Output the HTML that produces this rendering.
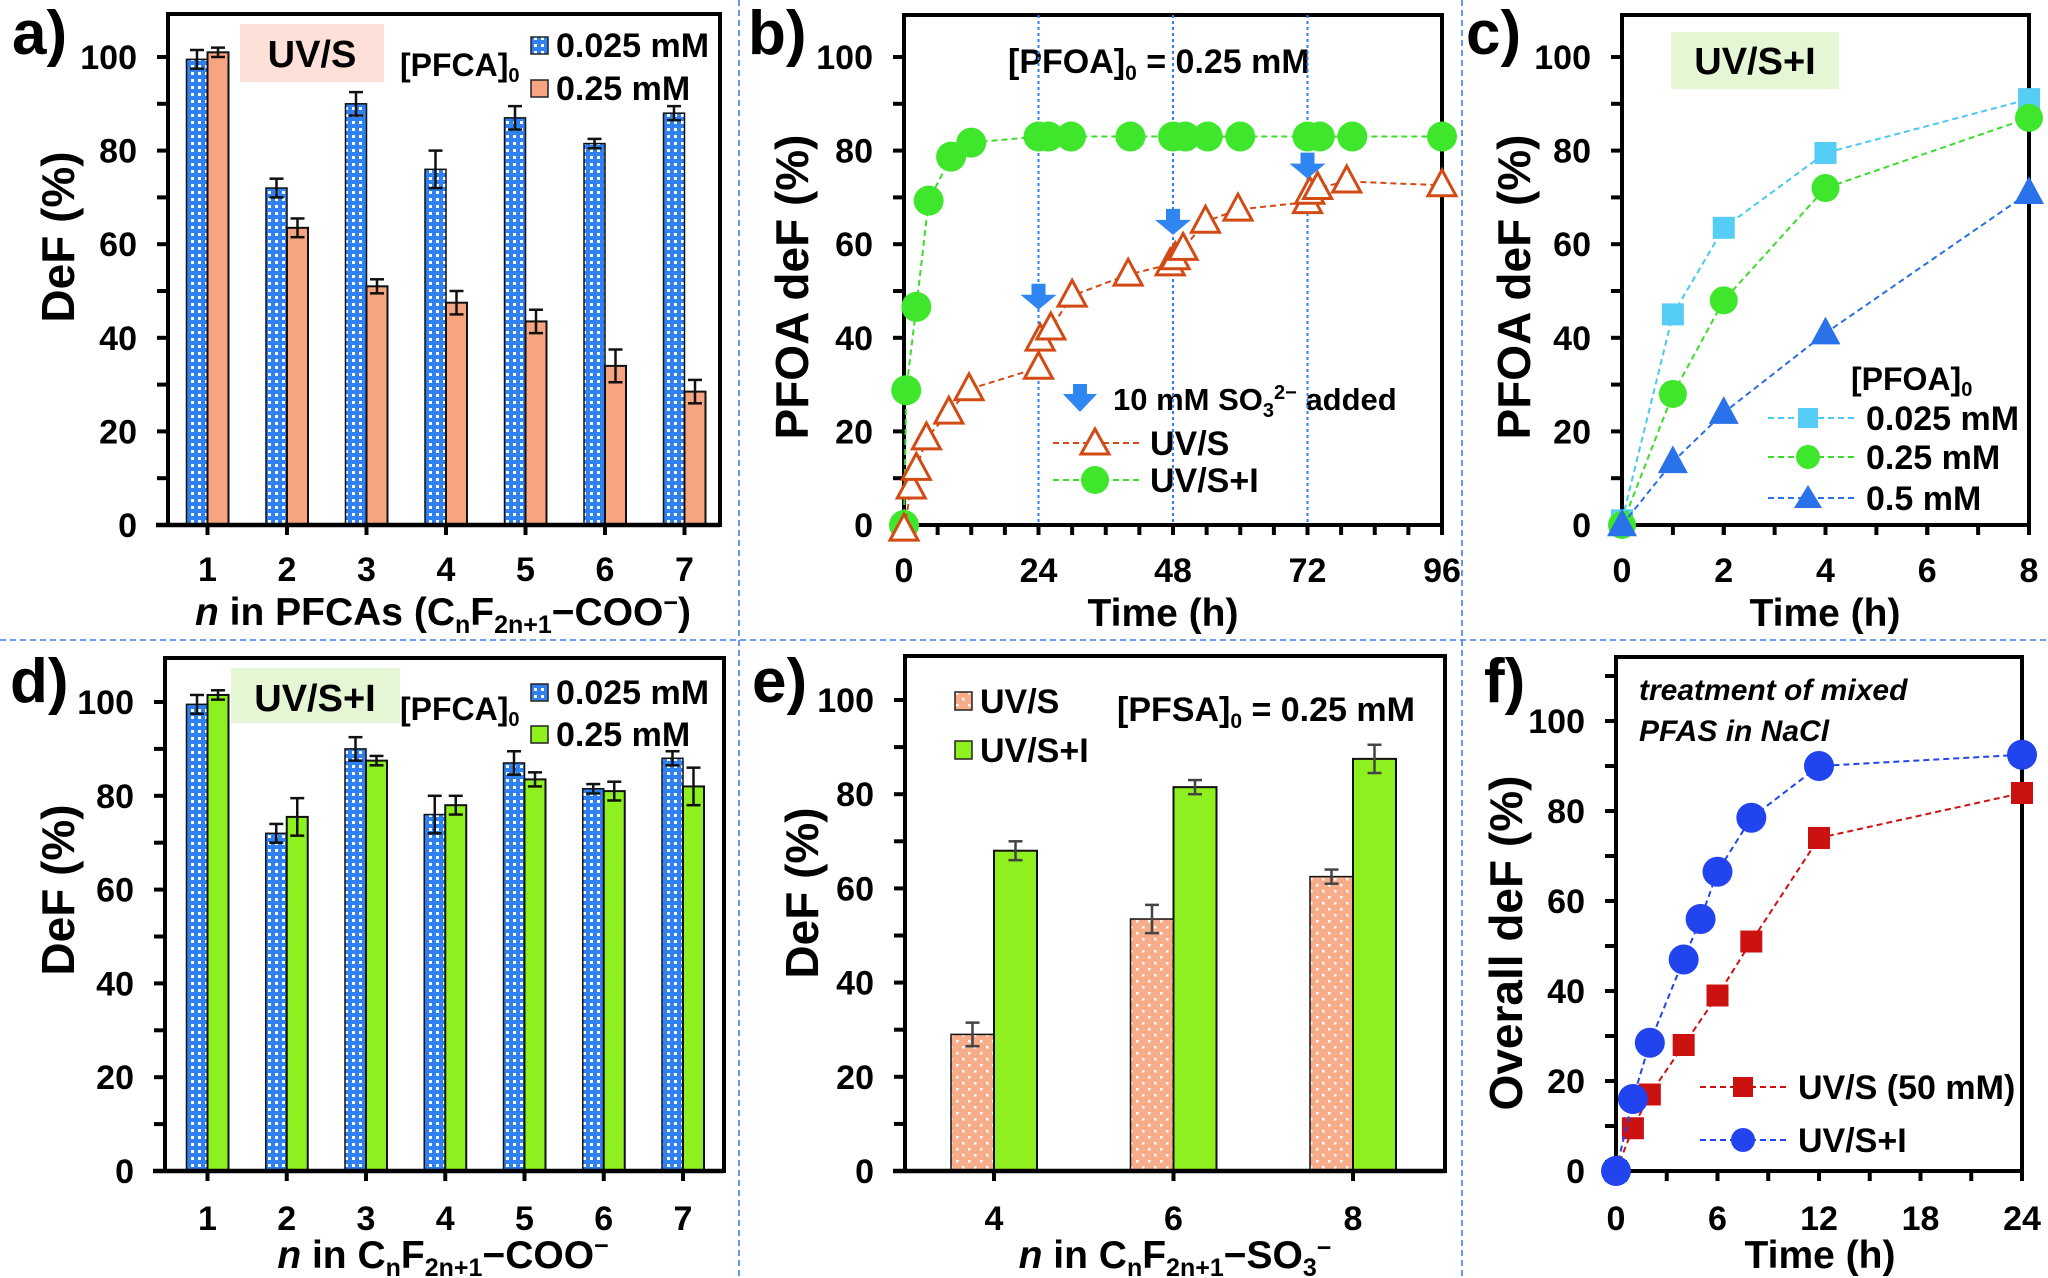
<!DOCTYPE html>
<html><head><meta charset="utf-8"><style>
html,body{margin:0;padding:0;background:#fff;}
svg{display:block;font-family:"Liberation Sans",Arial,sans-serif;font-weight:bold;}
</style></head><body>
<svg id="fig" width="2048" height="1278" viewBox="0 0 2048 1278" xmlns="http://www.w3.org/2000/svg">
<defs>
<pattern id="pBlue" width="7" height="7" patternUnits="userSpaceOnUse"><rect width="7" height="7" fill="#2f80f0"/><rect x="2" y="2" width="3" height="3" fill="#ffffff"/></pattern>
<pattern id="pOrangeDot" width="12" height="12" patternUnits="userSpaceOnUse"><rect width="12" height="12" fill="#f7ad8a"/><rect x="2" y="2" width="2.5" height="2.5" fill="#fff"/><rect x="8" y="8" width="2.5" height="2.5" fill="#fff"/></pattern>
</defs>
<g id="seps" stroke="#3f7ee8" stroke-width="1.6" stroke-dasharray="6 4" fill="none">
<line x1="0" y1="640" x2="2048" y2="640"/>
<line x1="739" y1="0" x2="739" y2="1278"/>
<line x1="1462" y1="0" x2="1462" y2="1278"/>
</g>
<g id="static">
<text x="12" y="54" font-size="62">a)</text>
<text x="748" y="54" font-size="62">b)</text>
<text x="1466" y="54" font-size="62">c)</text>
<text x="10" y="702" font-size="62">d)</text>
<text x="752" y="702" font-size="62">e)</text>
<text x="1484" y="702" font-size="62">f)</text>

<rect x="240" y="24" width="144" height="58" fill="#fde0d8"/>
<text x="312" y="67" font-size="38" text-anchor="middle">UV/S</text>
<text x="400" y="76" font-size="32">[PFCA]<tspan font-size="20" dy="6">0</tspan></text>
<rect x="531" y="37" width="17" height="17" fill="url(#pBlue)" stroke="#222" stroke-width="1.5"/>
<text x="556" y="57" font-size="34">0.025 mM</text>
<rect x="531" y="80" width="17" height="17" fill="#f7a580" stroke="#222" stroke-width="1.5"/>
<text x="556" y="100" font-size="34">0.25 mM</text>

<text x="1008" y="73" font-size="34">[PFOA]<tspan font-size="21" dy="7">0</tspan><tspan dy="-7"> = 0.25 mM</tspan></text>
<polygon points="1073,384 1087,384 1087,394 1097,394 1080,412 1063,394 1073,394" fill="#2f86f0"/>
<text x="1113" y="410" font-size="31">10 mM SO<tspan font-size="20" dy="7">3</tspan><tspan font-size="20" dy="-18">2−</tspan><tspan dy="11"> added</tspan></text>
<line x1="1053" y1="443" x2="1140" y2="443" stroke="#d24a14" stroke-width="2" stroke-dasharray="6 4"/>
<polygon points="1095,429 1109,454 1081,454" fill="#fff" stroke="#d24a14" stroke-width="3"/>
<text x="1150" y="455" font-size="34">UV/S</text>
<line x1="1053" y1="480" x2="1140" y2="480" stroke="#3edc2a" stroke-width="2" stroke-dasharray="6 4"/>
<circle cx="1095" cy="480" r="14" fill="#3ee62c"/>
<text x="1150" y="492" font-size="34">UV/S+I</text>

<rect x="1671" y="32" width="168" height="57" fill="#e4f6d4"/>
<text x="1755" y="74" font-size="38" text-anchor="middle">UV/S+I</text>
<text x="1851" y="390" font-size="32">[PFOA]<tspan font-size="20" dy="6">0</tspan></text>
<line x1="1768" y1="418" x2="1857" y2="418" stroke="#4cc8f2" stroke-width="2" stroke-dasharray="6 4"/>
<rect x="1798" y="408" width="20" height="20" fill="#55cdf5"/>
<text x="1866" y="430" font-size="34">0.025 mM</text>
<line x1="1768" y1="457" x2="1857" y2="457" stroke="#3edc2a" stroke-width="2" stroke-dasharray="6 4"/>
<circle cx="1808" cy="457" r="12" fill="#3ee62c"/>
<text x="1866" y="469" font-size="34">0.25 mM</text>
<line x1="1768" y1="498" x2="1857" y2="498" stroke="#2a6fe4" stroke-width="2" stroke-dasharray="6 4"/>
<polygon points="1808,485 1822,508 1794,508" fill="#2a72ea"/>
<text x="1866" y="510" font-size="34">0.5 mM</text>

<rect x="231" y="668" width="169" height="55" fill="#e4f6d4"/>
<text x="315" y="711" font-size="38" text-anchor="middle">UV/S+I</text>
<text x="400" y="720" font-size="32">[PFCA]<tspan font-size="20" dy="6">0</tspan></text>
<rect x="531" y="684" width="17" height="17" fill="url(#pBlue)" stroke="#222" stroke-width="1.5"/>
<text x="556" y="704" font-size="34">0.025 mM</text>
<rect x="531" y="726" width="17" height="17" fill="#8ef01e" stroke="#222" stroke-width="1.5"/>
<text x="556" y="746" font-size="34">0.25 mM</text>

<rect x="955" y="692" width="17" height="18" fill="url(#pOrangeDot)" stroke="#222" stroke-width="1.5"/>
<text x="980" y="713" font-size="34">UV/S</text>
<rect x="955" y="741" width="17" height="18" fill="#8ef01e" stroke="#222" stroke-width="1.5"/>
<text x="980" y="762" font-size="34">UV/S+I</text>
<text x="1117" y="721" font-size="34">[PFSA]<tspan font-size="21" dy="7">0</tspan><tspan dy="-7"> = 0.25 mM</tspan></text>

<text x="1639" y="700" font-size="30" font-style="italic">treatment of mixed</text>
<text x="1639" y="741" font-size="30" font-style="italic">PFAS in NaCl</text>
<line x1="1700" y1="1087" x2="1789" y2="1087" stroke="#cc1111" stroke-width="2" stroke-dasharray="6 4"/>
<rect x="1733" y="1077" width="20" height="20" fill="#cc1111"/>
<text x="1798" y="1099" font-size="34">UV/S (50 mM)</text>
<line x1="1700" y1="1140" x2="1789" y2="1140" stroke="#2244ee" stroke-width="2" stroke-dasharray="6 4"/>
<circle cx="1743" cy="1140" r="12" fill="#2244ee"/>
<text x="1798" y="1152" font-size="34">UV/S+I</text>
</g>
<g id="dyn"></g>
</svg>
<script>
// ---- data ----
const catsA = [1,2,3,4,5,6,7];
const aBlue = [99.5,72,90,76,87,81.5,88];
const aBlueErr = [2,2,2.5,4,2.5,1,1.5];
const aOrange = [101,63.5,51,47.5,43.5,34,28.5];
const aOrangeErr = [1,2,1.5,2.5,2.5,3.5,2.5];
const dGreen = [101.5,75.5,87.5,78,83.5,81,82];
const dGreenErr = [1,4,1,2,1.5,2,4];
const catsE = [4,6,8];
const eOrange = [29,53.5,62.5];
const eOrangeErr = [2.5,3,1.5];
const eGreen = [68,81.5,87.5];
const eGreenErr = [2,1.5,3];
const bUvsT = [0,1.3,2.2,4,8,11.6,24,24.3,26.2,30,40,47.5,48.4,49.8,53.8,59.6,72,72.4,73.8,79,96];
const bUvsV = [-1,8,12,18.5,24,29,33.6,39.6,42,49,53.5,55.7,57,59,64.8,67.4,69,71,72,73.4,72.6];
const bUvsiT = [0,0.4,2.2,4.4,8.4,12,24,25.8,29.8,40.4,48,50.2,54.2,60,72,74.2,80,96];
const bUvsiV = [0,28.8,46.6,69.3,78.7,81.7,83,83,83,83,83,83,83,83,83,83,83,83];
const bArrowT = [24,48,72];
const bArrowV = [46,62,74];
const cT = [0,1,2,4,8];
const c0025 = [1,45,63.5,79.5,91];
const c025 = [0,28,48,72,87];
const c05 = [0,13.5,24,41,71];
const fUvsT = [0,1,2,4,6,8,12,24];
const fUvsV = [0,9.5,17,28,39,51,74,84];
const fUvsiT = [0,1,2,4,5,6,8,12,24];
const fUvsiV = [0,16,28.5,47,56,66.5,78.5,90,92.5];
const yTicks = [0,20,40,60,80,100];
const fTicks = [0,20,40,60,80,100];
const bXTicks = [0,24,48,72,96];
const cXTicks = [0,2,4,6,8];
const fXTicks = [0,6,12,18,24];

const NS='http://www.w3.org/2000/svg';
const root=document.getElementById('dyn');
function mk(tag,attrs,parent){const e=document.createElementNS(NS,tag);for(const k in attrs)e.setAttribute(k,attrs[k]);(parent||root).appendChild(e);return e;}

function makeAxes(p){
  p.y=v=>p.y0-(v-0)*(p.y0-p.y100)/100;
  p.x=v=>p.left+(v-p.xmin)/(p.xmax-p.xmin)*(p.right-p.left);
  const g=mk('g',{});
  
  
  const fr=mk('rect',{x:p.left,y:p.top,width:p.right-p.left,height:p.y0-p.top,fill:'none',stroke:'#000','stroke-width':4},g);
  
  
  for(let v=0; v<=p.ymaxTick; v+=p.yMinor){
    mk('line',{x1:p.left-11,x2:p.left,y1:p.y(v),y2:p.y(v),stroke:'#000','stroke-width':4},g);
  }
  p.yLabels.forEach(v=>{
    const t=mk('text',{x:p.left-31,y:p.y(v)+12,'font-size':34,'text-anchor':'end'},g);
    t.textContent=v;
    
    
  });
  const yt=mk('text',{x:0,y:0,'font-size':46,'text-anchor':'middle',transform:`translate(${p.ytx},${p.yty}) rotate(-90)`},g);
  yt.textContent=p.ytitle;
  
  
  return g;
}
function xLabel(p,g,xpix,txt){
  mk('line',{x1:xpix,x2:xpix,y1:p.y0,y2:p.y0+10,stroke:'#000','stroke-width':4},g);
  const t=mk('text',{x:xpix,y:p.tickBase,'font-size':34,'text-anchor':'middle'},g);
  t.textContent=txt;
  
  
}
function errBar(g,x,yv,err,p,col){
  mk('line',{x1:x,x2:x,y1:p.y(yv-err),y2:p.y(yv+err),stroke:col,'stroke-width':2.5},g);
  mk('line',{x1:x-7,x2:x+7,y1:p.y(yv+err),y2:p.y(yv+err),stroke:col,'stroke-width':2.5},g);
  mk('line',{x1:x-7,x2:x+7,y1:p.y(yv-err),y2:p.y(yv-err),stroke:col,'stroke-width':2.5},g);
}
function barPanel(p,cats,s1,e1,f1,s2,e2,f2,bw,errCol,n1,n2){
  const g=makeAxes(p);
  const step=(p.catLast-p.catFirst)/(cats.length-1);
  cats.forEach((c,i)=>{
    const cx=p.catFirst+i*step;
    const r1=mk('rect',{x:cx-bw,y:p.y(s1[i]),width:bw,height:p.y0-p.y(s1[i]),fill:f1,stroke:'#111','stroke-width':1.5});
    
    
    const r2=mk('rect',{x:cx,y:p.y(s2[i]),width:bw,height:p.y0-p.y(s2[i]),fill:f2,stroke:'#111','stroke-width':2});
    
    
    errBar(root,cx-bw/2,s1[i],e1[i],p,errCol);
    errBar(root,cx+bw/2,s2[i],e2[i],p,errCol);
    xLabel(p,g,cx,c);
  });
  mk('line',{x1:p.left-12,x2:p.right,y1:p.y0,y2:p.y0,stroke:'#000','stroke-width':4.5});
}
function drawMarker(kind,x,y,s,fill,stroke,name){
  let e;
  if(kind==='circle') e=mk('circle',{cx:x,cy:y,r:s,fill:fill});
  else if(kind==='square') e=mk('rect',{x:x-s,y:y-s,width:2*s,height:2*s,fill:fill});
  else if(kind==='tri') e=mk('polygon',{points:`${x},${y-s*1.1} ${x+s},${y+s*0.75} ${x-s},${y+s*0.75}`,fill:fill,stroke:stroke||'none','stroke-width':stroke?3:0});
  
  
}
function series(p,ts,vs,col,kind,s,fill,stroke,name){
  const pts=ts.map((t,i)=>p.x(t)+','+p.y(vs[i])).join(' ');
  const l=mk('polyline',{points:pts,fill:'none',stroke:col,'stroke-width':2,'stroke-dasharray':'6 4'});
  
  
  ts.forEach((t,i)=>drawMarker(kind,p.x(t),p.y(vs[i]),s,fill,stroke,name+'-point'));
}
function lineAxes(p,xt,minor){
  const g=makeAxes(p);
  for(let v=p.xmin; v<=p.xmax; v+=minor) mk('line',{x1:p.x(v),x2:p.x(v),y1:p.y0,y2:p.y0+10,stroke:'#000','stroke-width':4},g);
  xt.forEach(v=>xLabel(p,g,p.x(v),v));
  return g;
}
function xTitle(x,y,html,name){
  const t=mk('text',{x:x,y:y,'font-size':39,'text-anchor':'middle'});
  t.innerHTML=html;
  
  
}

const pa={name:'panel-a',left:168,right:720,top:14,y0:525,y100:57,ymaxTick:100,yMinor:10,yLabels:yTicks,ytitle:'DeF (%)',ytx:74,yty:237,catFirst:207.5,catLast:684.5,tickBase:581};
barPanel(pa,catsA,aBlue,aBlueErr,'url(#pBlue)',aOrange,aOrangeErr,'#f7a580',21,'#111','a-0025mM','a-025mM');
xTitle(443,625,'<tspan font-style="italic">n</tspan> in PFCAs (C<tspan font-size="25" dy="8">n</tspan><tspan dy="-8">F</tspan><tspan font-size="25" dy="8">2n+1</tspan><tspan dy="-8">−COO</tspan><tspan font-size="25" dy="-14">−</tspan><tspan dy="14">)</tspan>','panel-a-x-axis-title');

const pd={name:'panel-d',left:165,right:724,top:658,y0:1171,y100:702,ymaxTick:100,yMinor:10,yLabels:yTicks,ytitle:'DeF (%)',ytx:74,yty:890,catFirst:207.5,catLast:683,tickBase:1230};
barPanel(pd,catsA,aBlue,aBlueErr,'url(#pBlue)',dGreen,dGreenErr,'#8ef01e',21,'#111','d-0025mM','d-025mM');
xTitle(443,1268,'<tspan font-style="italic">n</tspan> in C<tspan font-size="25" dy="8">n</tspan><tspan dy="-8">F</tspan><tspan font-size="25" dy="8">2n+1</tspan><tspan dy="-8">−COO</tspan><tspan font-size="25" dy="-14">−</tspan>','panel-d-x-axis-title');

const pe={name:'panel-e',left:905,right:1445,top:656,y0:1171,y100:700,ymaxTick:100,yMinor:10,yLabels:yTicks,ytitle:'DeF (%)',ytx:818,yty:893,catFirst:994,catLast:1353,tickBase:1230};
barPanel(pe,catsE,eOrange,eOrangeErr,'url(#pOrangeDot)',eGreen,eGreenErr,'#8ef01e',43,'#444','e-uvs','e-uvsi');
xTitle(1175,1268,'<tspan font-style="italic">n</tspan> in C<tspan font-size="25" dy="8">n</tspan><tspan dy="-8">F</tspan><tspan font-size="25" dy="8">2n+1</tspan><tspan dy="-8">−SO</tspan><tspan font-size="25" dy="8">3</tspan><tspan font-size="25" dy="-20">−</tspan>','panel-e-x-axis-title');

const pb={name:'panel-b',left:904,right:1442,top:15,y0:525,y100:57,ymaxTick:100,yMinor:10,yLabels:yTicks,ytitle:'PFOA deF (%)',ytx:808,yty:287,xmin:0,xmax:96,tickBase:582};
lineAxes(pb,bXTicks,6);
bArrowT.forEach(t=>{
  const l=mk('line',{x1:pb.x(t),x2:pb.x(t),y1:pb.top,y2:pb.y0,stroke:'#2f7ff0','stroke-width':2,'stroke-dasharray':'3 3'});
  
  
});
series(pb,bUvsiT,bUvsiV,'#3edc2a','circle',15,'#3ee62c',null,'b-uvsi');
series(pb,bUvsT,bUvsV,'#d24a14','tri',14,'#fff','#d24a14','b-uvs');
bArrowT.forEach((t,i)=>{
  const x=pb.x(t),y=pb.y(bArrowV[i]);
  const a=mk('polygon',{points:`${x-7},${y-26} ${x+7},${y-26} ${x+7},${y-15} ${x+18},${y-15} ${x},${y} ${x-18},${y-15} ${x-7},${y-15}`,fill:'#2f86f0'});
  
  
});
xTitle(1163,626,'Time (h)','panel-b-x-axis-title');

const pc={name:'panel-c',left:1622,right:2029,top:15,y0:525,y100:57,ymaxTick:100,yMinor:10,yLabels:yTicks,ytitle:'PFOA deF (%)',ytx:1530,yty:287,xmin:0,xmax:8,tickBase:582};
lineAxes(pc,cXTicks,1);
series(pc,cT,c0025,'#4cc8f2','square',11,'#55cdf5',null,'c-0025mM');
series(pc,cT,c025,'#3edc2a','circle',14,'#3ee62c',null,'c-025mM');
series(pc,cT,c05,'#2a6fe4','tri',15,'#2a72ea',null,'c-05mM');
xTitle(1825,626,'Time (h)','panel-c-x-axis-title');

const pf={name:'panel-f',left:1616,right:2022,top:657,y0:1171,y100:721,ymaxTick:110,yMinor:10,yLabels:fTicks,ytitle:'Overall deF (%)',ytx:1522,yty:943,xmin:0,xmax:24,tickBase:1230};
lineAxes(pf,fXTicks,3);
series(pf,fUvsT,fUvsV,'#cc1111','square',11,'#cc1111',null,'f-uvs');
series(pf,fUvsiT,fUvsiV,'#2244ee','circle',15,'#2244ee',null,'f-uvsi');
xTitle(1820,1268,'Time (h)','panel-f-x-axis-title');
</script>
</body></html>
